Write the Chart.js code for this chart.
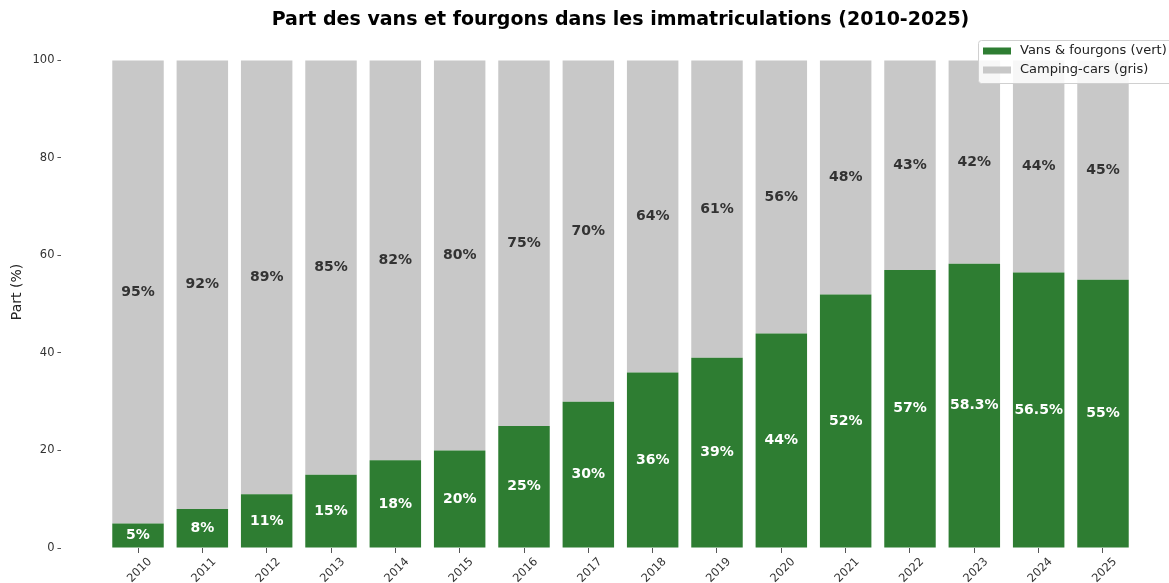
<!DOCTYPE html>
<html>
<head>
<meta charset="utf-8">
<script src="https://cdn.jsdelivr.net/npm/chart.js@4"></script>
<style>
  html, body { margin: 0; padding: 0; background: #ffffff; overflow: hidden; }
  #wrap { width: 1169px; height: 583px; position: relative; }
</style>
</head>
<body>
<div id="wrap"><canvas id="c" width="1169" height="583"></canvas></div>
<script>
// ---- Data ----
const years = ["2010","2011","2012","2013","2014","2015","2016","2017","2018","2019","2020","2021","2022","2023","2024","2025"];
const vansShare = [5, 8, 11, 15, 18, 20, 25, 30, 36, 39, 44, 52, 57, 58.3, 56.5, 55];
const campingShare = [95, 92, 89, 85, 82, 80, 75, 70, 64, 61, 56, 48, 43, 41.7, 43.5, 45];
const yTicks = [0, 20, 40, 60, 80, 100];
const chartTitle = "Part des vans et fourgons dans les immatriculations (2010-2025)";
const yTitle = "Part (%)";
const seriesNames = ["Vans & fourgons (vert)", "Camping-cars (gris)"];

const GREEN = "#2e7d32";
const GREY = "#c8c8c8";
const FONT = "'DejaVu Sans', sans-serif";

function fmtVans(v) { return (Number.isInteger(v) ? v : v.toFixed(1)) + "%"; }
function fmtCamp(v) { return Math.round(v) + "%"; }

const labelPlugin = {
  id: "barLabels",
  afterDatasetsDraw(chart) {
    const ctx = chart.ctx;
    ctx.save();
    ctx.textAlign = "center";
    ctx.textBaseline = "middle";
    ctx.font = "bold 14px " + FONT;
    chart.data.datasets.forEach((ds, di) => {
      const meta = chart.getDatasetMeta(di);
      meta.data.forEach((el, i) => {
        const p = el.getProps(["x", "y", "base"], true);
        const ym = (p.y + p.base) / 2;
        if (di === 0) { ctx.fillStyle = "#ffffff"; ctx.fillText(fmtVans(vansShare[i]), p.x, ym); }
        else { ctx.fillStyle = "#333333"; ctx.fillText(fmtCamp(campingShare[i]), p.x, ym); }
      });
    });
    ctx.restore();
  }
};

const titleLegendPlugin = {
  id: "titleLegend",
  afterDraw(chart) {
    const ctx = chart.ctx;
    const xs = chart.scales.x;
    ctx.save();
    ctx.fillStyle = "#000000";
    ctx.font = "bold 19px " + FONT;
    ctx.textAlign = "center";
    ctx.textBaseline = "middle";
    ctx.fillText(chartTitle, xs.getPixelForValue(7.5), 20);

    const bx = 978.5, by = 40.5, bw = 198, bh = 43;
    ctx.fillStyle = "rgba(255,255,255,0.85)";
    ctx.strokeStyle = "#d0d0d0";
    ctx.lineWidth = 1;
    ctx.beginPath();
    if (ctx.roundRect) ctx.roundRect(bx, by, bw, bh, 3); else ctx.rect(bx, by, bw, bh);
    ctx.fill();
    ctx.stroke();
    const cols = [GREEN, GREY];
    const rowsY = [51, 70];
    ctx.font = "13px " + FONT;
    ctx.textAlign = "left";
    for (let k = 0; k < 2; k++) {
      ctx.fillStyle = cols[k];
      ctx.fillRect(983, rowsY[k] - 3.5, 28, 7);
      ctx.fillStyle = "#222222";
      ctx.fillText(seriesNames[k], 1020, rowsY[k]);
    }
    ctx.restore();
  }
};

new Chart(document.getElementById("c"), {
  type: "bar",
  data: {
    datasets: [
      { label: seriesNames[0], data: vansShare.map((v, i) => ({ x: i, y: v })), backgroundColor: GREEN, borderWidth: 0 },
      { label: seriesNames[1], data: campingShare.map((v, i) => ({ x: i, y: v })), backgroundColor: GREY, borderWidth: 0 }
    ]
  },
  options: {
    responsive: false,
    devicePixelRatio: 1,
    animation: false,
    layout: { padding: { top: 36, left: 0, right: 0, bottom: 0 } },
    datasets: { bar: { barPercentage: 0.8, categoryPercentage: 1.0 } },
    plugins: { legend: { display: false }, title: { display: false }, tooltip: { enabled: false } },
    scales: {
      x: {
        type: "linear",
        stacked: true,
        offset: false,
        min: -1.19,
        max: 16.026,
        afterBuildTicks: (s) => { s.ticks = years.map((_, i) => ({ value: i })); },
        afterFit: (s) => { s.height = 35; },
        ticks: {
          callback: (v) => years[v],
          minRotation: 45, maxRotation: 45,
          labelOffset: 12,
          padding: 2,
          color: "#333333",
          font: { family: FONT, size: 11.5 }
        },
        grid: { offset: false, drawOnChartArea: false, drawTicks: true, tickLength: 5, tickColor: "#555555" },
        border: { display: false }
      },
      y: {
        stacked: true,
        min: 0,
        max: 105,
        afterBuildTicks: (s) => { s.ticks = yTicks.map(v => ({ value: v })); },
        afterFit: (s) => { s.width = 61.45; },
        ticks: { color: "#333333", padding: 3, font: { family: FONT, size: 11.5 } },
        grid: { drawOnChartArea: false, drawTicks: true, tickLength: 4, tickColor: "#555555" },
        border: { display: false },
        title: { display: true, text: yTitle, color: "#222222", font: { family: FONT, size: 14 }, padding: { top: 9, bottom: 0 } }
      }
    }
  },
  plugins: [labelPlugin, titleLegendPlugin]
});
</script>
</body>
</html>
